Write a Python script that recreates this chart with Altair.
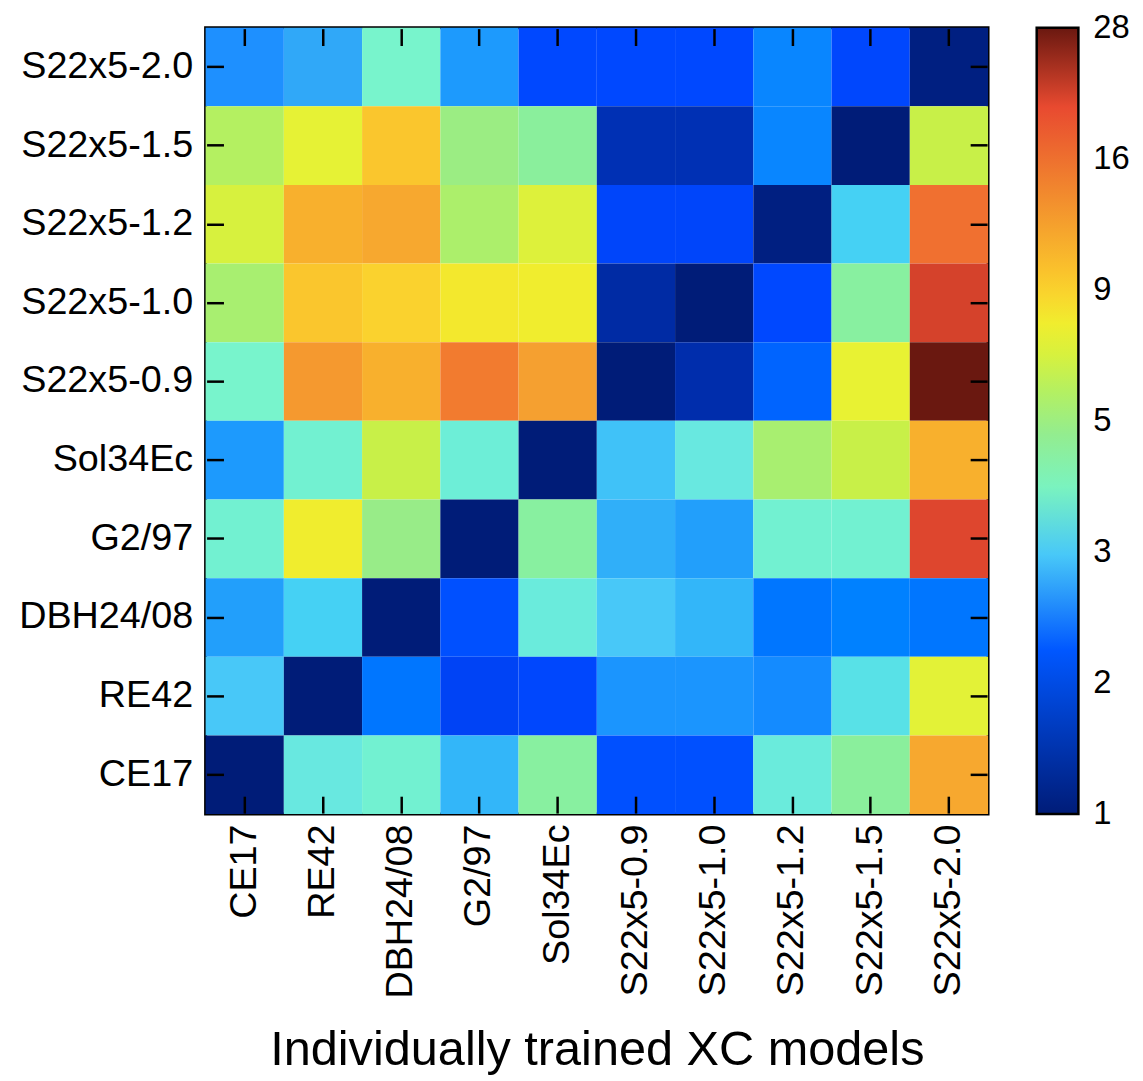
import altair as alt
import pandas as pd

# Column (x) order, left to right
cols = ["CE17", "RE42", "DBH24/08", "G2/97", "Sol34Ec",
        "S22x5-0.9", "S22x5-1.0", "S22x5-1.2", "S22x5-1.5", "S22x5-2.0"]
# Row (y) order, top to bottom
rows = ["S22x5-2.0", "S22x5-1.5", "S22x5-1.2", "S22x5-1.0", "S22x5-0.9",
        "Sol34Ec", "G2/97", "DBH24/08", "RE42", "CE17"]

# values per row (top to bottom), each listing columns left to right
v_s2_0 = [2.5, 2.75, 3.8, 2.6, 1.9, 1.9, 1.9, 2.4, 1.85, 1.05]
v_s1_5 = [6.0, 7.5, 9.8, 5.3, 4.6, 1.35, 1.35, 2.4, 1.0, 6.5]
v_s1_2 = [7.0, 11.0, 11.5, 5.8, 7.2, 1.8, 1.8, 1.05, 3.1, 16.0]
v_s1_0 = [5.7, 9.8, 9.2, 8.2, 8.0, 1.25, 1.0, 1.9, 4.5, 21.0]
v_s0_9 = [3.8, 12.5, 11.0, 15.0, 12.0, 1.0, 1.3, 2.1, 7.6, 28.0]
v_sol = [2.6, 3.7, 6.5, 3.6, 1.0, 2.95, 3.4, 5.7, 6.5, 11.0]
v_g2 = [3.7, 8.0, 5.2, 1.0, 4.5, 2.8, 2.65, 3.7, 3.7, 20.5]
v_dbh = [2.65, 3.1, 1.0, 1.95, 3.5, 3.0, 2.85, 2.25, 2.35, 2.25]
v_re42 = [3.0, 1.0, 2.25, 1.7, 1.85, 2.55, 2.55, 2.45, 3.3, 7.4]
v_ce17 = [1.0, 3.4, 3.7, 2.85, 4.5, 1.95, 1.95, 3.5, 4.6, 11.5]

row_values = [v_s2_0, v_s1_5, v_s1_2, v_s1_0, v_s0_9, v_sol, v_g2, v_dbh, v_re42, v_ce17]

# jet-like colour map stops (value -> colour)
cmap_vals = [1.0, 1.35, 1.6, 1.9, 2.2, 2.5, 2.75, 3.0, 3.4, 3.8, 4.5, 5.2,
             6.5, 7.8, 9.2, 12.0, 16.0, 20.0, 28.0]
cmap_cols = ["#001c78", "#0030b4", "#0040f0", "#0048ff", "#0070ff", "#1e90ff",
             "#30a8f8", "#48c8f8", "#68e8e0", "#78f4cc", "#88f0a0", "#98ec88",
             "#c8f048", "#eef230", "#fad22e", "#f5a030", "#f07030", "#e84a30",
             "#6a1810"]

# colour-bar tick values (labelled 1, 2, 3, 5, 9, 16, 28)
cbar_ticks = [1.0001, 1.742, 3.035, 5.288, 9.21, 16.05, 27.99]

records = []
for r, vals in zip(rows, row_values):
    for c, v in zip(cols, vals):
        records.append({"test": r, "model": c, "value": v})
df = pd.DataFrame(records)

FONT = "Liberation Sans"
W, H = 788, 792

xs = alt.Scale(domain=cols, paddingInner=0, paddingOuter=0)
ys = alt.Scale(domain=rows, paddingInner=0, paddingOuter=0)
cs = alt.Scale(type="log", domain=cmap_vals, range=cmap_cols)

base = alt.Chart(df)

heat = base.mark_rect().encode(
    x=alt.X("model:N", scale=xs, sort=cols,
            axis=alt.Axis(orient="bottom", title="Individually trained XC models",
                          labelAngle=270, labelFontSize=38, labelPadding=11,
                          tickSize=17, offset=-18, tickWidth=2.5, tickColor="black",
                          domain=False, titleFontSize=49, titleFontWeight="normal",
                          titlePadding=31, labelColor="black", titleColor="black",
                          labelFont=FONT, titleFont=FONT)),
    y=alt.Y("test:N", scale=ys, sort=rows,
            axis=alt.Axis(orient="left", title=None, labelFontSize=38,
                          labelPadding=14, tickSize=17, offset=-18, tickWidth=2.5,
                          tickColor="black", domain=False, labelColor="black",
                          labelFont=FONT)),
    color=alt.Color("value:Q", scale=cs,
                    legend=alt.Legend(title=None, orient="right", offset=48,
                                      gradientLength=792, gradientThickness=42,
                                      gradientStrokeColor="black",
                                      gradientStrokeWidth=2.5,
                                      values=cbar_ticks,
                                      labelExpr="format(round(datum.value), 'd')",
                                      labelFontSize=33, labelOffset=15,
                                      labelFont=FONT, labelColor="black",
                                      labelOverlap=False)),
)

frame = base.mark_rect(opacity=0).encode(
    x=alt.X("model:N", scale=xs, sort=cols,
            axis=alt.Axis(orient="top", title=None, labels=False, tickSize=17,
                          offset=-18, tickWidth=2.5, tickColor="black", domain=False)),
    y=alt.Y("test:N", scale=ys, sort=rows,
            axis=alt.Axis(orient="right", title=None, labels=False, tickSize=17,
                          offset=-18, tickWidth=2.5, tickColor="black", domain=False)),
)

chart = alt.layer(heat, frame).resolve_axis(x="independent", y="independent").properties(
    width=W, height=H, padding={"left": 10, "top": 15, "right": 5, "bottom": 0}
).configure_view(stroke="black", strokeWidth=3).configure_axis(grid=False)

chart.save("out.html", embed_options={"renderer": "svg", "actions": False})
